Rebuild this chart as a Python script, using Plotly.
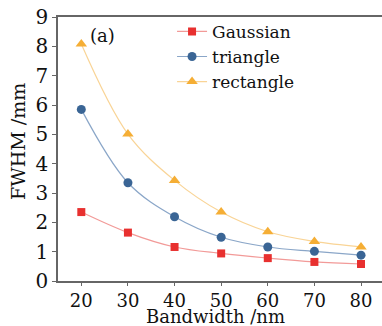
import plotly.graph_objects as go

bandwidth = [20, 30, 40, 50, 60, 70, 80]
gaussian = [2.35, 1.65, 1.16, 0.94, 0.78, 0.65, 0.58]
triangle = [5.85, 3.35, 2.19, 1.49, 1.16, 1.01, 0.88]
rectangle = [8.08, 5.01, 3.43, 2.35, 1.68, 1.35, 1.16]
x_ticks = [20, 30, 40, 50, 60, 70, 80]
y_ticks = [0, 1, 2, 3, 4, 5, 6, 7, 8, 9]

FONT = "DejaVu Serif"

series = [
    ("Gaussian", gaussian, "square", "#e8302f", "#f29a98", 8),
    ("triangle", triangle, "circle", "#3a6595", "#8aa6c8", 9),
    ("rectangle", rectangle, "triangle-up", "#f5ae35", "#f9d496", 10),
]

fig = go.Figure()
for name, ys, sym, mc, lc, ms in series:
    fig.add_trace(go.Scatter(
        x=bandwidth, y=ys, name=name, mode="lines+markers",
        line=dict(color=lc, width=1.2, shape="spline", smoothing=1.0),
        marker=dict(symbol=sym, color=mc, size=ms, line=dict(width=0)),
    ))

fig.update_layout(
    width=382, height=326,
    margin=dict(l=58, r=0, t=17, b=45, autoexpand=False),
    paper_bgcolor="white", plot_bgcolor="white",
    font=dict(family=FONT, color="#111111", size=18),
    showlegend=True,
    legend=dict(x=0.352, y=1.012, xanchor="left", yanchor="top",
                bgcolor="rgba(0,0,0,0)", font=dict(size=17, family=FONT),
                tracegroupgap=0),
    xaxis=dict(
        range=[15, 84.5], tickvals=x_ticks, ticktext=[str(v) for v in x_ticks],
        showline=True, linecolor="#666666", linewidth=1.5, mirror=True,
        ticks="outside", ticklen=3, tickcolor="#666666", tickwidth=1,
        showgrid=False, zeroline=False, automargin=False,
        tickfont=dict(size=18, family=FONT),
    ),
    yaxis=dict(
        range=[0, 9], tickvals=y_ticks, ticktext=[str(v) for v in y_ticks],
        showline=True, linecolor="#666666", linewidth=1.5,
        ticks="outside", ticklen=4, tickcolor="#666666", tickwidth=1,
        showgrid=False, zeroline=False, automargin=False,
        tickfont=dict(size=20, family=FONT),
    ),
)
fig.add_annotation(text="(a)", x=(88 - 58) / 324, y=(281 - 35) / 264,
                   xref="paper", yref="paper", xanchor="left", yanchor="middle",
                   showarrow=False, font=dict(size=18, family=FONT))
fig.add_annotation(text="Bandwidth /nm", x=(215 - 58) / 324, y=-(317 - 281) / 264,
                   xref="paper", yref="paper", xanchor="center", yanchor="middle",
                   showarrow=False, font=dict(size=18, family=FONT))
fig.add_annotation(text="FWHM /mm", x=-(58 - 18) / 324, y=(281 - 142) / 264,
                   xref="paper", yref="paper", xanchor="center", yanchor="middle",
                   textangle=-90, showarrow=False, font=dict(size=19, family=FONT))

fig.write_html("out.html", config={"displayModeBar": False},
               post_script="document.body.style.margin='0';document.body.style.overflow='hidden';")
